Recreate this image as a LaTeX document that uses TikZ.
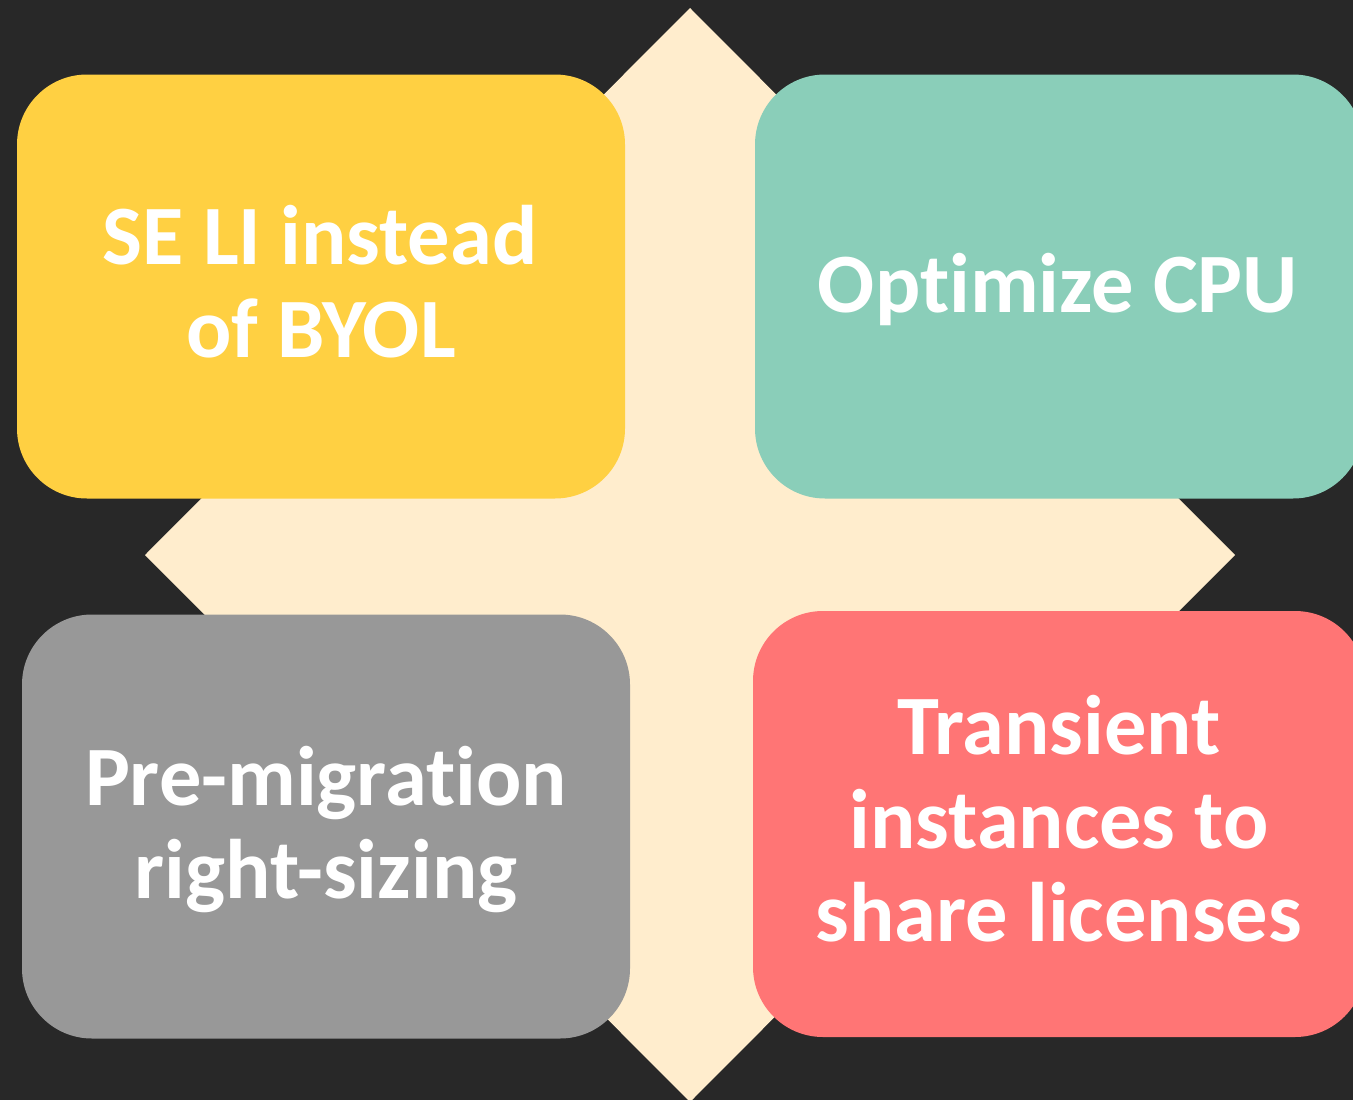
\documentclass[tikz,border=0pt]{standalone}
\usepackage{fontspec}
\setmainfont{Carlito}[Ligatures={NoCommon}]
\definecolor{bgdark}{HTML}{282828}
\definecolor{cream}{HTML}{FFEDCD}
\definecolor{cardyellow}{HTML}{FFD042}
\definecolor{cardteal}{HTML}{8ACEB9}
\definecolor{cardgray}{HTML}{989898}
\definecolor{cardred}{HTML}{FF7575}
\tikzset{
  card/.style={rectangle, rounded corners=70pt, inner sep=0pt, draw=none,
    minimum width=608pt, minimum height=424pt},
  lbl/.style={anchor=base, inner sep=0pt, text=white,
    font=\fontsize{84.5}{95}\selectfont\bfseries}
}
\begin{document}
\begin{tikzpicture}[x=1pt,y=-1pt]
  % canvas
  \fill[bgdark] (0,0) rectangle (1353,1100);
  \useasboundingbox (0,0) rectangle (1353,1100);
  % central diamond behind the four cards
  \fill[cream] (690,8) -- (1235,555) -- (690,1102) -- (145,555) -- cycle;
  % cards
  \node[card, fill=cardyellow] (seli)  at (321,286.5) {};
  \node[card, fill=cardteal]   (cpu)   at (1059,286.5) {};
  \node[card, fill=cardgray]   (right) at (326,826.5) {};
  \node[card, fill=cardred, minimum width=612pt, minimum height=426pt] (trans) at (1059,824) {};
  % card texts
  \node[lbl] (seli1) at (320,264) {SE LI instead};
  \node[lbl] (seli2) at (321,357) {of BYOL};
  \node[lbl] (cpu1) at (1058,312.5) {Optimize CPU};
  \node[lbl] (right1) at (326,805) {Pre-migration};
  \node[lbl] (right2) at (326,898) {right-sizing};
  \node[lbl] (trans1) at (1059,754) {Transient};
  \node[lbl] (trans2) at (1059,848) {instances to};
  \node[lbl] (trans3) at (1059,941) {share licenses};
\end{tikzpicture}
\end{document}
